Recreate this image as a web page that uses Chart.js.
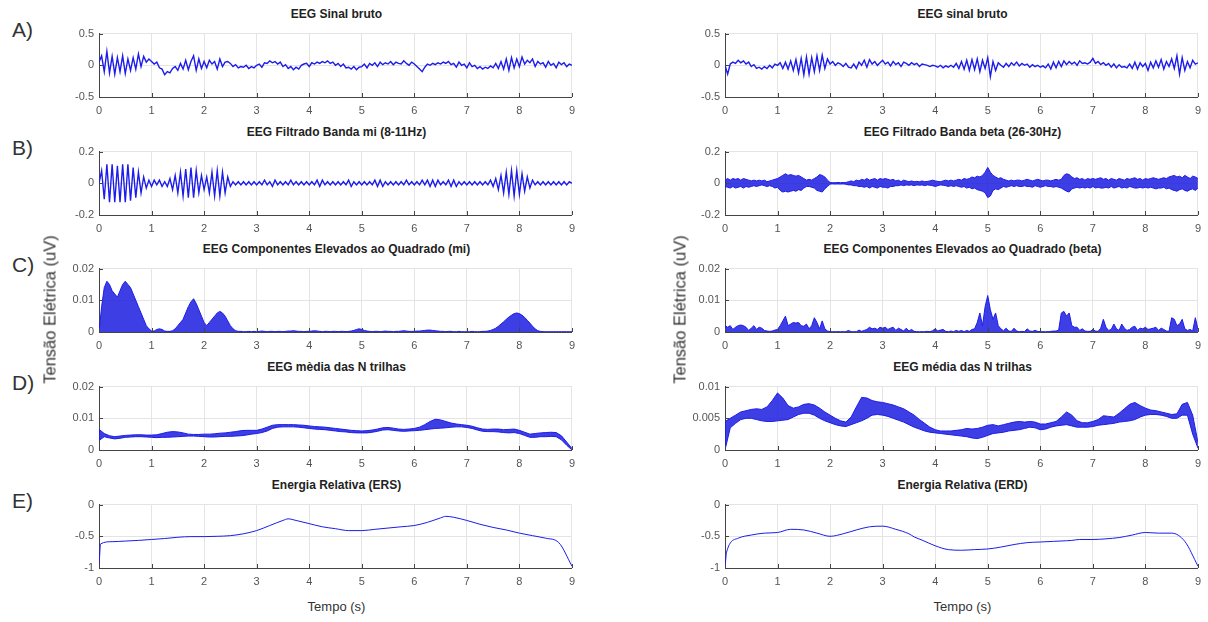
<!DOCTYPE html>
<html>
<head>
<meta charset="utf-8">
<script src="https://cdn.jsdelivr.net/npm/chart.js@4"></script>
<style>
  body { margin: 0; background: #fff; width: 1208px; height: 622px; overflow: hidden; position: relative; font-family: "Liberation Sans", Arial, sans-serif; }
  canvas { position: absolute; }
  .ttl { position: absolute; text-align: center; font-weight: bold; font-size: 12px; line-height: 16px; color: #222; }
  .lbl { position: absolute; font-size: 21px; color: #333; line-height: 24px; }
  .ylab { position: absolute; font-size: 16.5px; color: #333; transform: rotate(-90deg); transform-origin: center; white-space: nowrap; width: 200px; text-align: center; }
  .xlab { position: absolute; font-size: 13px; color: #333; width: 200px; text-align: center; }
</style>
</head>
<body>
<script>
// sample step of the dense signals (s)
var dtRaw = 0.05;
var dtAvg = 0.1;

// A) raw EEG, left (mi) and right (beta)
var rawMu = [0.05, 0.15, -0.10, 0.22, -0.12, 0.14, -0.14, 0.12, -0.10, 0.15, -0.13, 0.10, -0.08, 0.12, -0.06, 0.18, -0.02, 0.14, 0.05, 0.10, 0.06,
  0.02, 0.05, -0.04, -0.06, -0.15, -0.10, -0.12, -0.05, -0.02, -0.08, 0.03, -0.06, 0.08, -0.07, 0.06, 0.15, -0.08, 0.10, -0.05, 0.06,
  -0.04, 0.08, 0.02, 0.06, -0.06, 0.10, -0.02, 0.05, 0.06, 0.03, -0.02, 0.01, -0.04, -0.02, -0.03, 0.00, -0.05, -0.02, -0.04, 0.00,
  0.02, -0.03, 0.04, 0.03, 0.07, 0.04, 0.06, 0.02, 0.05, -0.02, 0.01, -0.05, -0.02, -0.07, -0.03, -0.06, 0.00, 0.02, 0.03, -0.02,
  0.04, 0.02, 0.05, 0.03, 0.06, 0.04, 0.07, 0.03, 0.05, 0.00, 0.03, -0.02, 0.02, -0.04, -0.03, -0.06, -0.02, -0.07, -0.03, -0.02,
  0.02, -0.04, 0.03, 0.00, 0.04, -0.02, 0.05, 0.01, 0.04, 0.02, 0.06, 0.01, 0.05, 0.03, 0.02, 0.07, 0.03, 0.00, 0.05, 0.02,
  -0.02, -0.06, -0.10, -0.03, 0.02, 0.00, 0.03, 0.01, 0.04, 0.02, 0.05, 0.03, 0.06, 0.01, 0.03, -0.03, 0.05, 0.00, 0.02, -0.04,
  0.04, -0.02, 0.00, -0.05, -0.02, -0.06, -0.03, -0.05, -0.01, -0.04, 0.03, -0.05, 0.06, -0.06, 0.10, -0.08, 0.12, -0.04, 0.10, -0.02,
  0.13, 0.02, 0.08, 0.04, 0.10, -0.02, 0.06, 0.02, 0.04, -0.03, 0.06, 0.00, 0.03, -0.04, 0.05, 0.01, 0.04, -0.02, 0.02, 0.00];
var rawBeta = [0.00, -0.14, 0.02, 0.05, 0.03, 0.08, 0.04, 0.07, 0.02, 0.05, -0.02, 0.01, -0.05, -0.03, -0.06, -0.02, -0.05, 0.00, -0.04, 0.02, 0.00,
  0.04, -0.05, 0.05, -0.06, 0.07, -0.08, 0.09, -0.12, 0.11, -0.15, 0.13, -0.14, 0.12, -0.10, 0.15, -0.08, 0.16, -0.05, 0.10, 0.02,
  0.06, 0.00, 0.04, 0.02, -0.02, 0.03, -0.03, -0.04, 0.02, -0.05, 0.05, 0.00, 0.08, -0.03, 0.09, 0.02, 0.06, 0.00, 0.04, 0.08,
  0.02, 0.05, -0.01, 0.06, 0.01, 0.04, -0.02, 0.05, 0.03, 0.00, 0.04, 0.01, 0.03, -0.02, 0.02, 0.01, 0.00, -0.02, 0.00, -0.01,
  -0.03, 0.00, -0.04, -0.01, -0.03, 0.00, -0.03, 0.03, -0.05, 0.06, -0.06, 0.08, -0.08, 0.09, -0.07, 0.10, -0.10, 0.08, -0.05, 0.12,
  -0.18, 0.06, -0.08, 0.04, 0.00, -0.03, 0.03, -0.02, 0.04, 0.00, 0.05, -0.01, 0.03, 0.00, 0.02, -0.03, 0.01, -0.02, 0.00, -0.03,
  -0.01, -0.04, 0.02, -0.06, 0.05, -0.04, 0.06, -0.02, 0.07, 0.01, 0.06, 0.02, 0.05, 0.00, 0.07, 0.03, 0.04, 0.02, 0.05, 0.11,
  0.03, 0.06, 0.01, 0.04, 0.00, 0.03, -0.03, 0.02, -0.04, 0.01, -0.03, -0.02, -0.04, 0.02, -0.05, 0.05, -0.06, 0.04, -0.02, 0.03,
  -0.08, 0.05, -0.04, 0.07, -0.03, 0.09, -0.06, 0.06, -0.02, 0.10, -0.05, 0.15, -0.14, 0.12, -0.08, 0.06, -0.04, 0.08, 0.02, 0.04];

// B) band filtered
var bandMu = [0.00, 0.08, -0.10, 0.12, -0.12, 0.12, -0.12, 0.11, -0.12, 0.12, -0.12, 0.12, -0.11, 0.10, -0.09, 0.07, -0.06, 0.04, -0.03, 0.02, -0.02,
  0.02, -0.01, 0.02, -0.02, 0.01, -0.02, 0.03, -0.04, 0.05, -0.06, 0.07, -0.08, 0.09, -0.09, 0.10, -0.09, 0.08, -0.06, 0.05, -0.04,
  0.04, -0.06, 0.07, -0.08, 0.08, -0.08, 0.07, -0.06, 0.04, -0.02, 0.01, -0.01, 0.01, -0.01, 0.01, -0.01, 0.01, -0.01, 0.01, -0.01,
  0.01, -0.01, 0.02, -0.01, 0.01, -0.02, 0.02, -0.01, 0.01, -0.01, 0.01, -0.01, 0.02, -0.01, 0.01, -0.01, 0.01, -0.01, 0.01, -0.01,
  0.01, -0.01, 0.02, -0.02, 0.02, -0.01, 0.01, -0.01, 0.01, -0.01, 0.01, -0.01, 0.01, -0.01, 0.02, -0.02, 0.01, -0.01, 0.01, -0.01,
  0.01, -0.01, 0.01, -0.01, 0.02, -0.02, 0.02, -0.02, 0.01, -0.01, 0.01, -0.01, 0.01, -0.01, 0.01, -0.01, 0.02, -0.01, 0.01, -0.01,
  0.01, -0.01, 0.02, -0.01, 0.02, -0.02, 0.02, -0.02, 0.02, -0.01, 0.01, -0.01, 0.02, -0.02, 0.02, -0.02, 0.01, -0.01, 0.01, -0.01,
  0.01, -0.01, 0.01, -0.01, 0.01, -0.01, 0.01, -0.01, 0.02, -0.02, 0.03, -0.04, 0.05, -0.06, 0.07, -0.07, 0.08, -0.08, 0.08, -0.07,
  0.06, -0.05, 0.04, -0.03, 0.02, -0.01, 0.01, -0.01, 0.01, -0.01, 0.01, -0.01, 0.01, -0.01, 0.01, -0.01, 0.01, -0.01, 0.01, 0.00];
var bandBetaUpper = [0.02, 0.03, 0.02, 0.03, 0.025, 0.03, 0.02, 0.03, 0.025, 0.02, 0.015, 0.02, 0.015, 0.02, 0.015, 0.02, 0.01, 0.015, 0.02, 0.025, 0.03,
  0.04, 0.05, 0.06, 0.05, 0.055, 0.05, 0.045, 0.05, 0.04, 0.03, 0.02, 0.025, 0.02, 0.03, 0.04, 0.055, 0.05, 0.04, 0.02, 0.005,
  0.004, 0.004, 0.005, 0.004, 0.005, 0.005, 0.01, 0.015, 0.01, 0.02, 0.015, 0.025, 0.02, 0.03, 0.02, 0.025, 0.03, 0.02, 0.03, 0.025,
  0.03, 0.025, 0.02, 0.025, 0.015, 0.02, 0.01, 0.02, 0.015, 0.01, 0.015, 0.01, 0.012, 0.01, 0.015, 0.01, 0.012, 0.015, 0.02, 0.015,
  0.012, 0.01, 0.015, 0.02, 0.015, 0.02, 0.015, 0.02, 0.025, 0.02, 0.03, 0.025, 0.03, 0.04, 0.035, 0.045, 0.04, 0.05, 0.07, 0.10,
  0.07, 0.05, 0.04, 0.03, 0.035, 0.025, 0.02, 0.015, 0.02, 0.015, 0.02, 0.02, 0.015, 0.02, 0.025, 0.02, 0.015, 0.02, 0.025, 0.02,
  0.015, 0.02, 0.02, 0.015, 0.02, 0.025, 0.02, 0.025, 0.05, 0.06, 0.055, 0.04, 0.03, 0.035, 0.025, 0.03, 0.02, 0.03, 0.025, 0.03,
  0.025, 0.03, 0.035, 0.025, 0.03, 0.02, 0.03, 0.025, 0.02, 0.03, 0.025, 0.02, 0.03, 0.025, 0.03, 0.035, 0.025, 0.03, 0.02, 0.03,
  0.025, 0.03, 0.035, 0.03, 0.025, 0.03, 0.035, 0.03, 0.04, 0.045, 0.05, 0.04, 0.045, 0.035, 0.05, 0.04, 0.03, 0.045, 0.04, 0.03];
var bandBetaLower = [-0.02, -0.025, -0.03, -0.02, -0.03, -0.025, -0.02, -0.03, -0.02, -0.025, -0.02, -0.015, -0.02, -0.015, -0.01, -0.015, -0.02, -0.015, -0.02, -0.03, -0.025,
  -0.045, -0.055, -0.05, -0.055, -0.05, -0.045, -0.05, -0.04, -0.045, -0.03, -0.02, -0.02, -0.025, -0.03, -0.045, -0.05, -0.055, -0.035, -0.02, -0.005,
  -0.004, -0.005, -0.004, -0.005, -0.004, -0.006, -0.01, -0.01, -0.015, -0.015, -0.02, -0.02, -0.025, -0.02, -0.03, -0.02, -0.025, -0.03, -0.02, -0.025,
  -0.025, -0.03, -0.02, -0.02, -0.015, -0.015, -0.01, -0.015, -0.01, -0.012, -0.01, -0.015, -0.01, -0.012, -0.01, -0.015, -0.01, -0.012, -0.015, -0.02,
  -0.015, -0.01, -0.012, -0.015, -0.02, -0.015, -0.02, -0.015, -0.02, -0.025, -0.02, -0.03, -0.025, -0.035, -0.03, -0.04, -0.045, -0.05, -0.06, -0.09,
  -0.08, -0.045, -0.035, -0.04, -0.03, -0.02, -0.025, -0.02, -0.015, -0.02, -0.015, -0.02, -0.02, -0.015, -0.02, -0.02, -0.025, -0.015, -0.02, -0.025,
  -0.02, -0.015, -0.02, -0.02, -0.025, -0.02, -0.025, -0.03, -0.04, -0.05, -0.055, -0.035, -0.03, -0.025, -0.03, -0.025, -0.03, -0.025, -0.03, -0.02,
  -0.03, -0.025, -0.03, -0.03, -0.025, -0.03, -0.02, -0.03, -0.025, -0.02, -0.03, -0.025, -0.03, -0.02, -0.025, -0.03, -0.03, -0.025, -0.03, -0.025,
  -0.03, -0.025, -0.03, -0.035, -0.03, -0.03, -0.025, -0.035, -0.03, -0.04, -0.045, -0.05, -0.04, -0.035, -0.045, -0.05, -0.04, -0.035, -0.045, -0.03];

// C) squared components (upper envelope, filled down to 0)
var sqMu = [0.000, 0.008, 0.014, 0.016, 0.015, 0.013, 0.012, 0.011, 0.013, 0.015, 0.016, 0.015, 0.014, 0.012, 0.010, 0.008, 0.006, 0.004, 0.002, 0.001, 0.0003,
  0.0003, 0.0008, 0.001, 0.0008, 0.0003, 0.0002, 0.0002, 0.0004, 0.001, 0.002, 0.003, 0.004, 0.006, 0.008, 0.0095, 0.0105, 0.009, 0.007, 0.005, 0.003,
  0.002, 0.003, 0.004, 0.005, 0.006, 0.0065, 0.006, 0.005, 0.0035, 0.002, 0.001, 0.0004, 0.0002, 0.0002, 0.0001, 0.0001, 0.0002, 0.0001, 0.0002, 0.0001,
  0.0002, 0.0003, 0.0002, 0.0001, 0.0002, 0.0002, 0.0001, 0.0002, 0.0002, 0.0001, 0.0002, 0.0003, 0.0003, 0.0004, 0.0003, 0.0002, 0.0002, 0.0001, 0.0002, 0.0002,
  0.0003, 0.0004, 0.0003, 0.0002, 0.0001, 0.0002, 0.0002, 0.0001, 0.0002, 0.0002, 0.0001, 0.0002, 0.0002, 0.0001, 0.0002, 0.0003, 0.0005, 0.0008, 0.001, 0.0008,
  0.0005, 0.0003, 0.0002, 0.0001, 0.0002, 0.0002, 0.0001, 0.0002, 0.0003, 0.0002, 0.0002, 0.0001, 0.0002, 0.0002, 0.0003, 0.0004, 0.0003, 0.0002, 0.0002, 0.0002,
  0.0003, 0.0003, 0.0004, 0.0005, 0.0006, 0.0006, 0.0005, 0.0004, 0.0003, 0.0002, 0.0002, 0.0001, 0.0002, 0.0002, 0.0001, 0.0001, 0.0002, 0.0001, 0.0001, 0.0001,
  0.0001, 0.0002, 0.0001, 0.0001, 0.0001, 0.0002, 0.0002, 0.0003, 0.0005, 0.0008, 0.0012, 0.0018, 0.0025, 0.0032, 0.004, 0.0047, 0.0053, 0.0058, 0.006, 0.0058,
  0.0053, 0.0046, 0.0037, 0.0028, 0.0018, 0.001, 0.0004, 0.0002, 0.0001, 0.0001, 0.0001, 0.0001, 0.0001, 0.0001, 0.0001, 0.0001, 0.0001, 0.0001, 0.0001, 0.0001];
var sqBeta = [0.002, 0.0015, 0.002, 0.0008, 0.0015, 0.002, 0.0022, 0.002, 0.0015, 0.0005, 0.0012, 0.002, 0.0008, 0.0015, 0.0012, 0.0005, 0.0003, 0.0002, 0.0003, 0.0006, 0.0008,
  0.002, 0.0035, 0.005, 0.002, 0.0025, 0.003, 0.0028, 0.003, 0.002, 0.0018, 0.0025, 0.001, 0.002, 0.0045, 0.003, 0.001, 0.0035, 0.001, 0.0003, 0.0001,
  0.0001, 0.0001, 0.0001, 0.0001, 0.0001, 0.0001, 0.0005, 0.0001, 0.0001, 0.0001, 0.0006, 0.0002, 0.0005, 0.0008, 0.0015, 0.001, 0.0012, 0.0008, 0.0015, 0.0012,
  0.0015, 0.0008, 0.0012, 0.0015, 0.0005, 0.0012, 0.0008, 0.0003, 0.0012, 0.0003, 0.0008, 0.0002, 0.0001, 0.0001, 0.0001, 0.0001, 0.0002, 0.0001, 0.0004, 0.001,
  0.0003, 0.0006, 0.0008, 0.0002, 0.0001, 0.0003, 0.0001, 0.0005, 0.0002, 0.0005, 0.0001, 0.0005, 0.0002, 0.0008, 0.001, 0.003, 0.006, 0.002, 0.008, 0.0115,
  0.007, 0.004, 0.006, 0.002, 0.001, 0.0004, 0.0012, 0.0003, 0.0002, 0.0012, 0.0003, 0.0001, 0.0002, 0.0001, 0.001, 0.0003, 0.0002, 0.0005, 0.0002, 0.0001,
  0.0001, 0.0001, 0.0001, 0.0002, 0.0003, 0.0003, 0.0006, 0.006, 0.0065, 0.005, 0.006, 0.002, 0.0015, 0.0015, 0.0005, 0.001, 0.0003, 0.0002, 0.0002, 0.0008,
  0.0003, 0.0002, 0.0012, 0.004, 0.0015, 0.0005, 0.0008, 0.0025, 0.001, 0.0005, 0.0025, 0.0012, 0.0005, 0.0008, 0.0015, 0.0018, 0.0005, 0.0012, 0.001, 0.0015,
  0.0008, 0.001, 0.0012, 0.0015, 0.0005, 0.0012, 0.0008, 0.0003, 0.0002, 0.0045, 0.004, 0.002, 0.0025, 0.004, 0.001, 0.0005, 0.0008, 0.0003, 0.0045, 0.001];

// D) average over N trials (lower / upper edge of the band)
var avgMuLower = [0.0030, 0.0042, 0.0038, 0.0035, 0.0037, 0.0040, 0.0041, 0.0042, 0.0042, 0.0041, 0.0040, 0.0039, 0.0040, 0.0040, 0.0041, 0.0042, 0.0043, 0.0044, 0.0044, 0.0043,
  0.0042, 0.0041, 0.0041, 0.0042, 0.0043, 0.0043, 0.0044, 0.0045, 0.0047, 0.0050, 0.0052, 0.0055, 0.0060, 0.0068, 0.0072, 0.0073, 0.0073, 0.0073, 0.0072, 0.0070,
  0.0068, 0.0066, 0.0065, 0.0064, 0.0062, 0.0060, 0.0058, 0.0057, 0.0055, 0.0054, 0.0054, 0.0054, 0.0056, 0.0059, 0.0063, 0.0064, 0.0062, 0.0060, 0.0059, 0.0060,
  0.0061, 0.0062, 0.0064, 0.0066, 0.0068, 0.0069, 0.0070, 0.0072, 0.0073, 0.0073, 0.0071, 0.0068, 0.0063, 0.0059, 0.0058, 0.0058, 0.0057, 0.0055, 0.0054, 0.0055,
  0.0052, 0.0046, 0.0040, 0.0040, 0.0042, 0.0042, 0.0043, 0.0042, 0.0032, 0.0015, 0.0000];
var avgMuUpper = [0.0065, 0.0052, 0.0045, 0.0042, 0.0044, 0.0046, 0.0047, 0.0048, 0.0048, 0.0047, 0.0047, 0.0048, 0.0052, 0.0056, 0.0058, 0.0057, 0.0054, 0.0050, 0.0049, 0.0049,
  0.0050, 0.0050, 0.0051, 0.0053, 0.0054, 0.0056, 0.0058, 0.0061, 0.0062, 0.0062, 0.0062, 0.0066, 0.0072, 0.0078, 0.0080, 0.0080, 0.0080, 0.0080, 0.0079, 0.0078,
  0.0076, 0.0074, 0.0073, 0.0072, 0.0070, 0.0068, 0.0066, 0.0064, 0.0062, 0.0061, 0.0060, 0.0061, 0.0063, 0.0066, 0.0070, 0.0071, 0.0069, 0.0066, 0.0065, 0.0066,
  0.0068, 0.0072, 0.0080, 0.0090, 0.0097, 0.0095, 0.0090, 0.0085, 0.0082, 0.0080, 0.0078, 0.0075, 0.0070, 0.0066, 0.0065, 0.0066, 0.0066, 0.0064, 0.0065, 0.0066,
  0.0062, 0.0056, 0.0050, 0.0052, 0.0054, 0.0055, 0.0056, 0.0055, 0.0045, 0.0025, 0.0005];
var avgBetaLower = [0.0000, 0.0035, 0.0042, 0.0048, 0.0050, 0.0050, 0.0048, 0.0046, 0.0045, 0.0045, 0.0046, 0.0047, 0.0048, 0.0052, 0.0056, 0.0058, 0.0058, 0.0055, 0.0050, 0.0046,
  0.0043, 0.0040, 0.0038, 0.0037, 0.0040, 0.0043, 0.0046, 0.0050, 0.0055, 0.0056, 0.0055, 0.0053, 0.0050, 0.0047, 0.0044, 0.0040, 0.0036, 0.0033, 0.0030, 0.0028,
  0.0027, 0.0026, 0.0025, 0.0024, 0.0023, 0.0022, 0.0021, 0.0019, 0.0018, 0.0020, 0.0023, 0.0026, 0.0027, 0.0028, 0.0030, 0.0031, 0.0032, 0.0034, 0.0036, 0.0035,
  0.0032, 0.0033, 0.0036, 0.0038, 0.0039, 0.0040, 0.0038, 0.0036, 0.0036, 0.0036, 0.0037, 0.0039, 0.0040, 0.0041, 0.0042, 0.0044, 0.0045, 0.0046, 0.0048, 0.0052,
  0.0055, 0.0056, 0.0056, 0.0055, 0.0053, 0.0050, 0.0050, 0.0055, 0.0055, 0.0025, 0.0003];
var avgBetaUpper = [0.0045, 0.0050, 0.0055, 0.0060, 0.0062, 0.0064, 0.0065, 0.0064, 0.0068, 0.0078, 0.0090, 0.0082, 0.0070, 0.0066, 0.0068, 0.0072, 0.0073, 0.0071, 0.0066, 0.0060,
  0.0055, 0.0050, 0.0046, 0.0044, 0.0052, 0.0068, 0.0083, 0.0082, 0.0078, 0.0076, 0.0075, 0.0073, 0.0071, 0.0068, 0.0065, 0.0060, 0.0055, 0.0048, 0.0042, 0.0036,
  0.0032, 0.0030, 0.0030, 0.0030, 0.0031, 0.0032, 0.0034, 0.0033, 0.0034, 0.0036, 0.0039, 0.0040, 0.0038, 0.0040, 0.0042, 0.0044, 0.0045, 0.0044, 0.0045, 0.0044,
  0.0041, 0.0041, 0.0043, 0.0045, 0.0052, 0.0060, 0.0055, 0.0046, 0.0043, 0.0043, 0.0045, 0.0048, 0.0054, 0.0053, 0.0052, 0.0058, 0.0065, 0.0072, 0.0075, 0.0070,
  0.0066, 0.0063, 0.0062, 0.0060, 0.0058, 0.0056, 0.0057, 0.0072, 0.0075, 0.0055, 0.0012];

// E) relative energy
var eTime = [0, 0.03, 0.25, 0.5, 0.75, 1, 1.25, 1.5, 1.75, 2, 2.25, 2.5, 2.75, 3, 3.25, 3.5, 3.6, 3.75, 4, 4.25, 4.5, 4.75,
  5, 5.25, 5.5, 5.75, 6, 6.25, 6.5, 6.6, 6.75, 7, 7.25, 7.5, 7.75, 8, 8.25, 8.5, 8.75, 9];
var ersValues = [-1.0, -0.62, -0.585, -0.575, -0.565, -0.55, -0.535, -0.515, -0.505, -0.505, -0.50, -0.49, -0.46, -0.41, -0.33, -0.25, -0.225, -0.25, -0.30, -0.35, -0.38, -0.41,
  -0.41, -0.39, -0.37, -0.35, -0.33, -0.28, -0.21, -0.185, -0.20, -0.25, -0.31, -0.36, -0.40, -0.45, -0.49, -0.53, -0.60, -0.97];
var erdValues = [-1.0, -0.75, -0.53, -0.48, -0.45, -0.44, -0.39, -0.40, -0.45, -0.50, -0.46, -0.40, -0.35, -0.34, -0.39, -0.46, -0.51, -0.56, -0.65, -0.71, -0.72, -0.71,
  -0.70, -0.67, -0.63, -0.60, -0.59, -0.58, -0.57, -0.565, -0.55, -0.55, -0.54, -0.52, -0.48, -0.44, -0.45, -0.45, -0.58, -0.97];

var xTicks = [0, 1, 2, 3, 4, 5, 6, 7, 8, 9];
var rowLetters = ["A)", "B)", "C)", "D)", "E)"];

var BLUE = "rgb(28,28,235)";
var BLUE_FILL = "rgba(28,28,225,0.85)";
var FONT = "'Liberation Sans', Arial, sans-serif";

function sampled(values, dt) {
  return values.map(function (v, i) { return { x: Math.round(i * dt * 1000) / 1000, y: v }; });
}
function timed(times, values) {
  return times.map(function (t, i) { return { x: t, y: values[i] }; });
}
function line(data, extra) {
  return Object.assign({ data: data, borderColor: BLUE, borderWidth: 1, pointRadius: 0, fill: false, tension: 0 }, extra || {});
}

var cols = [99, 725];
var rows = [30, 148, 265, 383, 501];
var plotW = 475, plotH = 67;

var panels = [
  { col: 0, row: 0, title: "EEG Sinal bruto", min: -0.5, max: 0.5, step: 0.5, datasets: [line(sampled(rawMu, dtRaw), { borderWidth: 1.4 })] },
  { col: 1, row: 0, title: "EEG sinal bruto", min: -0.5, max: 0.5, step: 0.5, datasets: [line(sampled(rawBeta, dtRaw), { borderWidth: 1.4 })] },
  { col: 0, row: 1, title: "EEG Filtrado Banda mi (8-11Hz)", min: -0.2, max: 0.2, step: 0.2, datasets: [line(sampled(bandMu, dtRaw), { borderWidth: 1.4 })] },
  { col: 1, row: 1, title: "EEG Filtrado Banda beta (26-30Hz)", min: -0.2, max: 0.2, step: 0.2,
    datasets: [line(sampled(bandBetaUpper, dtRaw), { fill: "+1", backgroundColor: BLUE_FILL }), line(sampled(bandBetaLower, dtRaw))] },
  { col: 0, row: 2, title: "EEG Componentes Elevados ao Quadrado (mi)", min: 0, max: 0.02, step: 0.01,
    datasets: [line(sampled(sqMu, dtRaw), { fill: "origin", backgroundColor: BLUE_FILL })] },
  { col: 1, row: 2, title: "EEG Componentes Elevados ao Quadrado (beta)", min: 0, max: 0.02, step: 0.01,
    datasets: [line(sampled(sqBeta, dtRaw), { fill: "origin", backgroundColor: BLUE_FILL })] },
  { col: 0, row: 3, title: "EEG mèdia das N trilhas", min: 0, max: 0.02, step: 0.01,
    datasets: [line(sampled(avgMuUpper, dtAvg), { fill: "+1", backgroundColor: BLUE_FILL }), line(sampled(avgMuLower, dtAvg))] },
  { col: 1, row: 3, title: "EEG média das N trilhas", min: 0, max: 0.01, step: 0.005,
    datasets: [line(sampled(avgBetaUpper, dtAvg), { fill: "+1", backgroundColor: BLUE_FILL }), line(sampled(avgBetaLower, dtAvg))] },
  { col: 0, row: 4, title: "Energia Relativa (ERS)", min: -1, max: 0, step: 0.5,
    datasets: [line(timed(eTime, ersValues), { cubicInterpolationMode: "monotone" })] },
  { col: 1, row: 4, title: "Energia Relativa (ERD)", min: -1, max: 0, step: 0.5,
    datasets: [line(timed(eTime, erdValues), { cubicInterpolationMode: "monotone" })] }
];

// small inward tick marks like matlab axes
var innerTicks = {
  id: "innerTicks",
  afterDraw: function (chart) {
    var ctx = chart.ctx, a = chart.chartArea, sx = chart.scales.x, sy = chart.scales.y;
    ctx.save();
    ctx.strokeStyle = "#444";
    ctx.lineWidth = 1;
    ctx.beginPath();
    sx.ticks.forEach(function (t) {
      var px = Math.round(sx.getPixelForValue(t.value)) + 0.5;
      ctx.moveTo(px, a.bottom); ctx.lineTo(px, a.bottom - 4);
    });
    sy.ticks.forEach(function (t) {
      var py = Math.round(sy.getPixelForValue(t.value)) + 0.5;
      ctx.moveTo(a.left, py); ctx.lineTo(a.left + 4, py);
    });
    ctx.stroke();
    ctx.restore();
  }
};

var padL = 50, padT = 8, padR = 8, padB = 24;

panels.forEach(function (p, k) {
  var left = cols[p.col], top = rows[p.row];
  var cv = document.createElement("canvas");
  cv.width = padL + plotW + padR;
  cv.height = padT + plotH + padB;
  cv.style.left = (left - padL) + "px";
  cv.style.top = (top - padT) + "px";
  document.body.appendChild(cv);

  var t = document.createElement("div");
  t.className = "ttl";
  t.style.left = left + "px";
  t.style.width = plotW + "px";
  t.style.top = (top - 24) + "px";
  t.textContent = p.title;
  document.body.appendChild(t);

  new Chart(cv, {
    type: "line",
    data: { datasets: p.datasets },
    options: {
      responsive: false,
      animation: false,
      layout: { padding: { top: padT, right: padR, left: 0, bottom: 0 } },
      plugins: { legend: { display: false }, tooltip: { enabled: false }, title: { display: false } },
      scales: {
        x: {
          type: "linear", min: 0, max: 9,
          afterBuildTicks: function (s) { s.ticks = xTicks.map(function (v) { return { value: v }; }); },
          afterFit: function (s) { s.height = padB; },
          grid: { color: "#e4e4e4", drawTicks: false },
          border: { color: "#444", width: 1 },
          ticks: { padding: 7, color: "#555", font: { family: FONT, size: 11 }, maxRotation: 0 }
        },
        y: {
          min: p.min, max: p.max,
          afterFit: function (s) { s.width = padL; },
          grid: { color: "#e4e4e4", drawTicks: false },
          border: { color: "#444", width: 1 },
          ticks: {
            stepSize: p.step, padding: 5, color: "#555", font: { family: FONT, size: 11 },
            callback: function (v) { return String(Math.round(v * 10000) / 10000); }
          }
        }
      }
    },
    plugins: [innerTicks]
  });
});

rows.forEach(function (top, i) {
  var d = document.createElement("div");
  d.className = "lbl";
  d.style.left = "12px";
  d.style.top = (top - 12) + "px";
  d.textContent = rowLetters[i];
  document.body.appendChild(d);
});

[50, 680].forEach(function (cx) {
  var d = document.createElement("div");
  d.className = "ylab";
  d.style.left = (cx - 100) + "px";
  d.style.top = (310 - 10) + "px";
  d.textContent = "Tensão Elétrica (uV)";
  document.body.appendChild(d);
});

cols.forEach(function (left) {
  var d = document.createElement("div");
  d.className = "xlab";
  d.style.left = (left + plotW / 2 - 100) + "px";
  d.style.top = "599px";
  d.textContent = "Tempo (s)";
  document.body.appendChild(d);
});
</script>
</body>
</html>
